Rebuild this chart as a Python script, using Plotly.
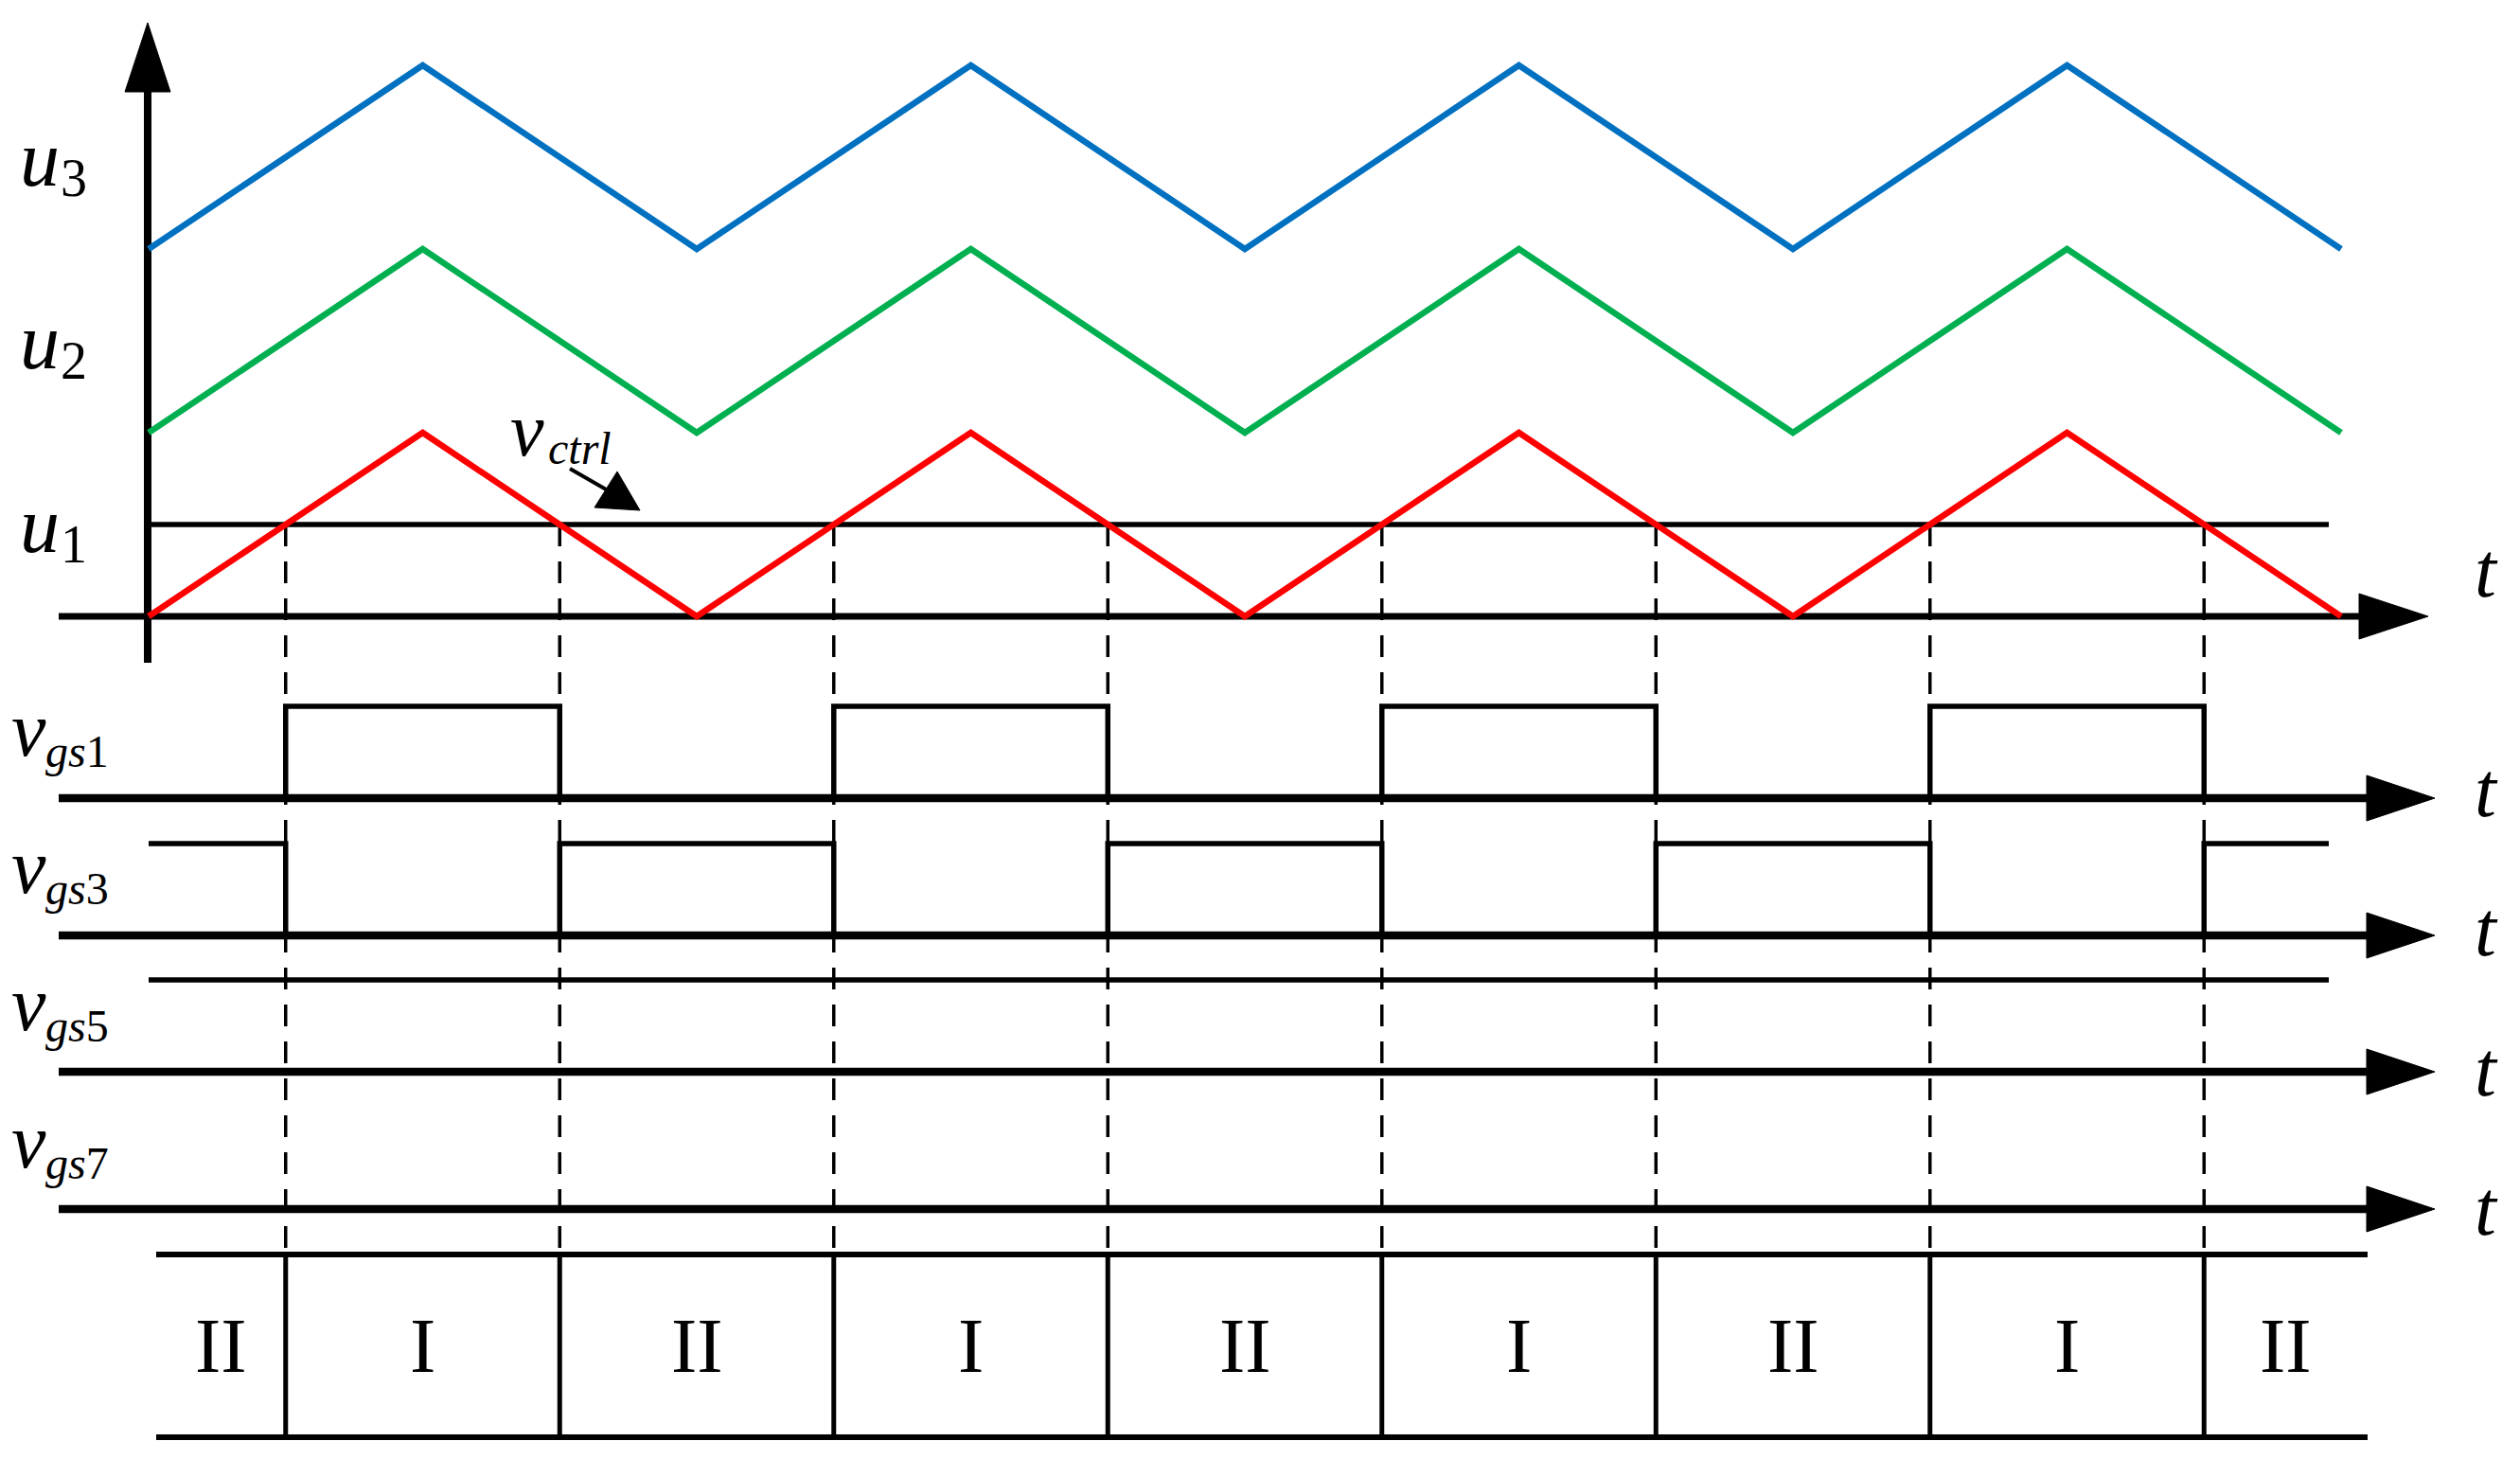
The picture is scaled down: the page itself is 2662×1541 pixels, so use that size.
import plotly.graph_objects as go

# carrier vertices, time in half carrier periods
t_vertex = [0, 1, 2, 3, 4, 5, 6, 7, 8]
u1 = [0, 1, 0, 1, 0, 1, 0, 1, 0]
u2 = [1, 2, 1, 2, 1, 2, 1, 2, 1]
u3 = [2, 3, 2, 3, 2, 3, 2, 3, 2]
v_ctrl = 0.5

# switching instants (u1 crosses v_ctrl) and gate states between them
t_switch = [0.5, 1.5, 2.5, 3.5, 4.5, 5.5, 6.5, 7.5]
vgs1 = [0, 1, 0, 1, 0, 1, 0, 1, 0]
vgs3 = [1, 0, 1, 0, 1, 0, 1, 0, 1]
vgs5 = [1, 1, 1, 1, 1, 1, 1, 1, 1]
vgs7 = [0, 0, 0, 0, 0, 0, 0, 0, 0]
gate_names = ["1", "3", "5", "7"]
modes = ["II", "I", "II", "I", "II", "I", "II", "I", "II"]

W, H = 2662, 1541
SERIF = "Liberation Serif, Times New Roman, serif"
BLUE, GREEN, RED = "#0070C0", "#00B050", "#FF0000"

# reference pixel frame -> data units
X0_PX, DX_PX = 157, 289.5
Y0_PX, DY_PX = 651, 194.0


def tx(px):
    return (px - X0_PX) / DX_PX


def vy(py):
    return (Y0_PX - py) / DY_PX


T_LEVEL_END = tx(2460)
GATE_BASE = [vy(p) for p in (843, 988, 1132, 1277)]
GATE_HIGH = 0.5
STRIP_TOP, STRIP_BOT = vy(1325), vy(1518)
STRIP_X0, STRIP_X1 = tx(165), tx(2501)

fig = go.Figure()


def line(x, y, width, color="black", dash=None):
    fig.add_trace(go.Scatter(x=x, y=y, mode="lines", hoverinfo="skip",
                             line=dict(color=color, width=width, dash=dash)))


def head(pts):
    xs = [tx(p[0]) for p in pts] + [tx(pts[0][0])]
    ys = [vy(p[1]) for p in pts] + [vy(pts[0][1])]
    fig.add_trace(go.Scatter(x=xs, y=ys, mode="lines", fill="toself",
                             fillcolor="black", line=dict(color="black", width=1),
                             hoverinfo="skip"))


def label(s, x_px, base_px, size, anchor="left"):
    fig.add_annotation(x=tx(x_px), y=vy(base_px - 0.34 * size), text=s,
                       showarrow=False, xanchor=anchor, yanchor="middle",
                       borderpad=0, font=dict(family=SERIF, size=size, color="black"))


# dashed guides at switching instants
dx, dy = [], []
for t in t_switch:
    dx += [t, t, None]
    dy += [v_ctrl, STRIP_TOP, None]
line(dx, dy, 3.5, dash="23px,16px")

# axes of the carrier plot
line([tx(156), tx(156)], [vy(700), vy(97)], 8)
head([(156, 24), (132, 97), (180, 97)])
line([tx(62), tx(2492)], [0, 0], 7)
head([(2565, 651), (2492, 627), (2492, 675)])

# carriers and control level
line(t_vertex, u3, 6.5, BLUE)
line(t_vertex, u2, 6.5, GREEN)
line([0, T_LEVEL_END], [v_ctrl, v_ctrl], 5.5)
line(t_vertex, u1, 6.5, RED)

# gate signals
for base, states in zip(GATE_BASE, [vgs1, vgs3, vgs5, vgs7]):
    xs = [0] + t_switch + [T_LEVEL_END]
    ys = [base + GATE_HIGH * s for s in states] + [base + GATE_HIGH * states[-1]]
    fig.add_trace(go.Scatter(x=xs, y=ys, mode="lines", hoverinfo="skip",
                             line=dict(color="black", width=5.5, shape="hv")))
    line([tx(62), tx(2502)], [base, base], 8.5)
    bp = Y0_PX - base * DY_PX
    head([(2572, bp), (2500, bp - 24), (2500, bp + 24)])

# operating-mode strip
line([STRIP_X0, STRIP_X1], [STRIP_TOP, STRIP_TOP], 6)
line([STRIP_X0, STRIP_X1], [STRIP_BOT, STRIP_BOT], 6)
sx, sy = [], []
for t in t_switch:
    sx += [t, t, None]
    sy += [STRIP_TOP, STRIP_BOT, None]
line(sx, sy, 5)
bounds = [STRIP_X0] + t_switch + [STRIP_X1]
for i, m in enumerate(modes):
    mid = (bounds[i] + bounds[i + 1]) / 2
    fig.add_annotation(x=mid, y=(STRIP_TOP + STRIP_BOT) / 2, text=m, showarrow=False,
                       xanchor="center", yanchor="middle",
                       font=dict(family=SERIF, size=82, color="black"))

# vctrl pointer
line([tx(602), tx(642)], [vy(495), vy(518)], 4)
head([(676, 539), (652, 498), (628, 536)])

# labels
for i, n in enumerate(["3", "2", "1"]):
    base = [196, 389, 583][i]
    label("<i>u</i>", 20, base, 84)
    label(n, 63, base + 11, 56)
label("<i>v</i>", 538, 481, 80)
label("<i>ctrl</i>", 578, 490, 48)
for i, n in enumerate(gate_names):
    base = 798 + i * 145
    label("<i>v</i>", 11, base, 82)
    label("<i>gs</i>" + n, 47, base + 12, 48)
for base in (630, 862, 1009, 1157, 1304):
    label("<i>t</i>", 2626, base, 82, anchor="center")

fig.update_layout(
    width=W, height=H, margin=dict(l=0, r=0, t=0, b=0),
    paper_bgcolor="white", plot_bgcolor="white", showlegend=False,
    hovermode=False,
    xaxis=dict(range=[tx(0), tx(W)], visible=False, fixedrange=True),
    yaxis=dict(range=[vy(H), vy(0)], visible=False, fixedrange=True),
)
fig.write_html("out.html", config={"displayModeBar": False},
               post_script="document.body.style.margin='0';")
